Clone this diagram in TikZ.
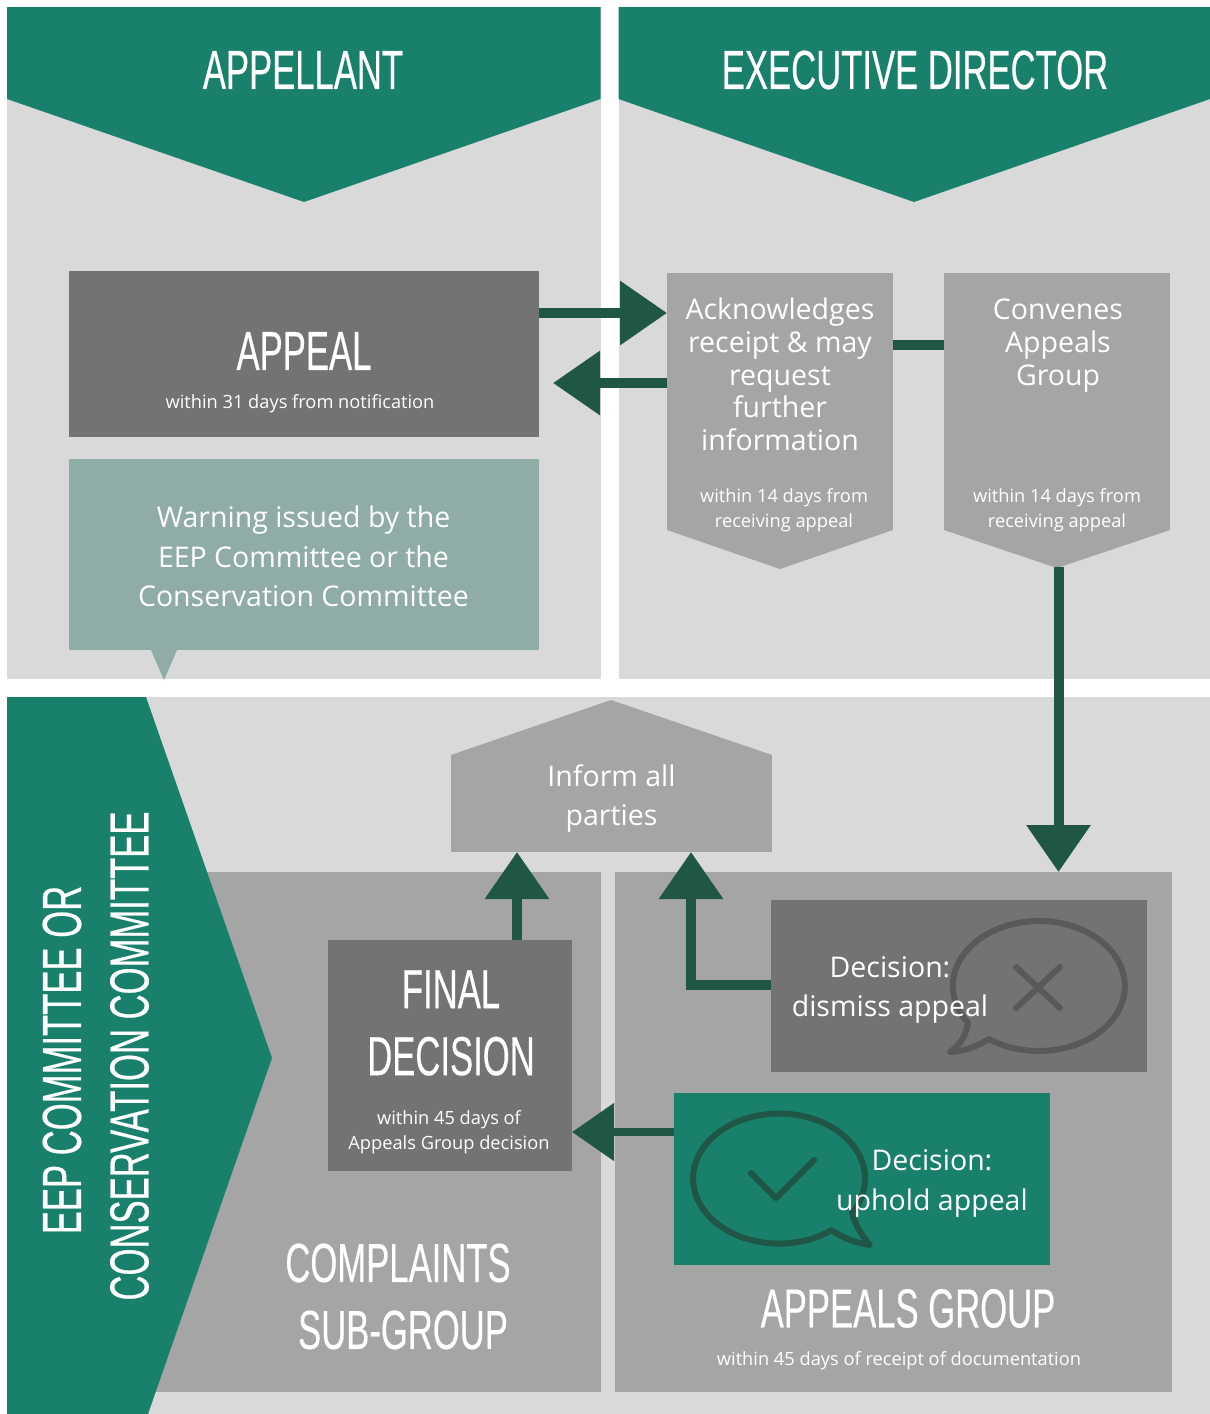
\documentclass[tikz,border=0pt]{standalone}
\usepackage{fontspec}
\setmainfont{Open Sans}
\newfontfamily\headfont[FakeStretch=0.63,FakeBold=0.35]{Liberation Sans}
\usetikzlibrary{arrows.meta}
\definecolor{panelgray}{HTML}{D9D9D9}
\definecolor{boxgray}{HTML}{A5A5A5}
\definecolor{darkgray}{HTML}{737373}
\definecolor{bannergreen}{HTML}{19806B}
\definecolor{flowgreen}{HTML}{1F5645}
\definecolor{warnteal}{HTML}{8FADA6}
\definecolor{bubblegray}{HTML}{595959}
\tikzset{
  box/.style={inner sep=0pt, outer sep=0pt, text=white, align=center},
  head/.style={text=white, inner sep=0pt, align=center, font=\headfont\fontsize{55}{67}\selectfont},
  body/.style={text=white, inner sep=0pt, align=center, font=\fontsize{28.5}{32.7}\selectfont},
  wide/.style={text=white, inner sep=0pt, align=center, font=\fontsize{28.5}{39.7}\selectfont},
  small/.style={text=white, inner sep=0pt, align=center, font=\fontsize{18.25}{25}\selectfont},
  flow/.style={draw=flowgreen, line width=10pt, -{Triangle[width=62pt,length=47pt]}},
  bubble/.style={line width=6pt, line join=round, line cap=round}
}
\begin{document}
\begin{tikzpicture}[x=1pt,y=-1pt]
\useasboundingbox (0,0) rectangle (1210,1414);
\fill[white] (0,0) rectangle (1210,1414);
\fill[panelgray] (7,7) rectangle (600.5,679);
\fill[panelgray] (618.5,7) rectangle (1210,679);
\fill[panelgray] (7,697) rectangle (1210,1414);
\fill[bannergreen] (7,7)--(600.5,7)--(600.5,99)--(304,202)--(7,99)--cycle;
\fill[bannergreen] (618.5,7)--(1210,7)--(1210,99)--(914,202)--(618.5,99)--cycle;
\node[box, fill=boxgray, minimum width=445pt, minimum height=520pt] (complaints) at (378,1132) {};
\node[box, fill=boxgray, minimum width=557pt, minimum height=520pt] (appeals) at (893.5,1132) {};
\fill[bannergreen] (7,697)--(146,697)--(272,1058)--(148,1414)--(7,1414)--cycle;
\node[box, fill=darkgray, minimum width=470pt, minimum height=166pt] (appeal) at (303.5,354) {};
\node[box, fill=warnteal, minimum width=470pt, minimum height=191pt] (warning) at (303.5,554.5) {};
\fill[warnteal] (warning.south -| 151,0)--(164,680)--(warning.south -| 177,0)--cycle;
\node[box, fill=boxgray, minimum width=226pt, minimum height=257pt] (ack) at (780,401.5) {};
\fill[boxgray] (ack.south west)--(780,569)--(ack.south east)--cycle;
\node[box, fill=boxgray, minimum width=226pt, minimum height=257pt] (convene) at (1057,401.5) {};
\fill[boxgray] (convene.south west)--(1057,568)--(convene.south east)--cycle;
\node[box, fill=boxgray, minimum width=321pt, minimum height=97pt] (inform) at (611.5,803.5) {};
\fill[boxgray] (inform.north west)--(611,700)--(inform.north east)--cycle;
\node[box, fill=darkgray, minimum width=244pt, minimum height=231pt] (final) at (450,1055.5) {};
\node[box, fill=darkgray, minimum width=376pt, minimum height=172pt] (dismiss) at (959,986) {};
\node[box, fill=bannergreen, minimum width=376pt, minimum height=172pt] (uphold) at (862,1179) {};
\draw[flow] (appeal.east |- 0,313) -- (ack.west |- 0,313);
\draw[flow] (ack.west |- 0,383) -- (553,383);
\draw[draw=flowgreen, line width=10pt] (ack.east |- 0,345) -- (convene.west |- 0,345);
\draw[flow] (1058.5,567) -- (appeals.north -| 1058.5,0);
\draw[flow] (final.north -| 517,0) -- (inform.south -| 517,0);
\draw[flow] (dismiss.west |- 0,985) -| (inform.south -| 691,0);
\draw[draw=flowgreen, line width=8pt, -{Triangle[width=56pt,length=42pt]}] (uphold.west |- 0,1132) -- (final.east |- 0,1132);
\draw[bubble, draw=bubblegray] (989,1039) arc[x radius=86pt, y radius=65pt, start angle=234.6, end angle=573.8]
  -- (968,1022) .. controls (966,1036) and (960,1045) .. (950,1052) .. controls (965,1051) and (978,1046) .. (989,1039);
\draw[bubble, draw=bubblegray] (1016,967)--(1060,1008) (1060,967)--(1016,1008);
\draw[bubble, draw=flowgreen] (852,1213) arc[x radius=86pt, y radius=65pt, start angle=-32, end angle=307.1]
  -- (831,1230) .. controls (843,1238) and (856,1243) .. (870,1245) .. controls (862,1236) and (855,1225) .. (852,1213);
\draw[bubble, draw=flowgreen] (751,1173)--(776,1198)--(814,1160);
\node[head] (appellant) at (303,70) {APPELLANT};
\node[head] (director) at (915,70) {EXECUTIVE DIRECTOR};
\node[head] (appealtitle) at (304,351) {APPEAL};
\node[small] (appealnote) at (300,404) {within 31 days from notification};
\node[wide] (warningtext) at (303.5,556.5) {Warning issued by the\\EEP Committee or the\\Conservation Committee};
\node[body] (acktext) at (780,374.5) {Acknowledges\\receipt \& may\\request\\further\\information};
\node[small] (acknote) at (784,510) {within 14 days from\\receiving appeal};
\node[body] (convenetext) at (1058,345.5) {Convenes\\Appeals\\Group};
\node[small] (convenenote) at (1057,510) {within 14 days from\\receiving appeal};
\node[wide] (informtext) at (611.5,798.5) {Inform all\\parties};
\node[head] (finaltitle) at (451,1023) {FINAL\\DECISION};
\node[small] (finalnote) at (449,1132) {within 45 days of\\Appeals Group decision};
\node[wide] (dismisstext) at (890,990) {Decision:\\dismiss appeal};
\node[wide] (upholdtext) at (932,1183.5) {Decision:\\uphold appeal};
\node[head] (complaintstitle) at (398,1263) {COMPLAINTS};
\node[head] (subgrouptitle) at (403,1330) {SUB-GROUP};
\node[head] (appealstitle) at (908,1308.5) {APPEALS GROUP};
\node[small] (appealsnote) at (899,1361) {within 45 days of receipt of documentation};
\node[head, rotate=90] (eeptitle) at (62,1060) {EEP COMMITTEE OR};
\node[head, rotate=90] (constitle) at (129.5,1056) {CONSERVATION COMMITTEE};
\end{tikzpicture}
\end{document}
